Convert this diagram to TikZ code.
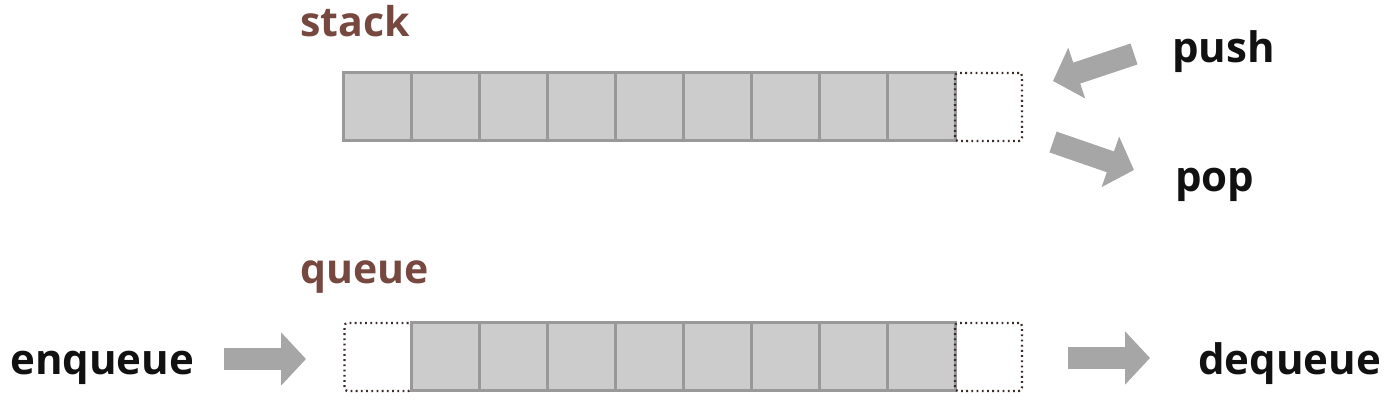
\documentclass[tikz,border=0pt]{standalone}
\usepackage{fontspec}
\setmainfont{Open Sans}
\usetikzlibrary{arrows.meta}
\definecolor{brn}{HTML}{774840}
\definecolor{cellfill}{HTML}{CCCCCC}
\definecolor{celledge}{HTML}{999999}
\definecolor{arrgray}{HTML}{A6A6A6}
\definecolor{dotc}{HTML}{3A2A28}
\definecolor{txt}{HTML}{111111}
\begin{document}
\begin{tikzpicture}[x=1pt,y=-1pt,
  cell/.style={draw=celledge,fill=cellfill,line width=3pt,minimum width=68pt,minimum height=68pt,inner sep=0pt,outer sep=0pt,anchor=north west},
  emptycell/.style={draw=dotc,line width=2.2pt,dash pattern=on 1.8pt off 3.4pt,rounded corners=3pt,minimum width=67pt,minimum height=68pt,inner sep=0pt,outer sep=0pt,anchor=north west},
  lbl/.style={font=\fontsize{42}{48}\selectfont\bfseries,text=txt,anchor=base west,inner sep=0pt},
  title/.style={font=\fontsize{41}{48}\selectfont\bfseries,text=brn,anchor=base west,inner sep=0pt},
  bigarrow/.style={draw=arrgray,line width=22pt,-{Triangle[length=25pt,width=52pt]},color=arrgray}]
\useasboundingbox (0,0) rectangle (1400,419);
% stack
\node[title] (stacklbl) at (300,37) {stack};
\foreach \i in {0,...,8} {
  \node[cell] (s\i) at ({343+68*\i},73) {};
}
\node[emptycell] (stop) at (955,73) {};
% queue
\node[title] (queuelbl) at (300,284) {queue};
\node[emptycell] (qin) at (344.5,323) {};
\foreach \i in {0,...,7} {
  \node[cell] (q\i) at ({411+68*\i},323) {};
}
\node[emptycell] (qout) at (955,323) {};
% labels
\node[lbl] (push) at (1172,63) {push};
\node[lbl] (pop) at (1175,192) {pop};
\node[lbl] (enq) at (10,375) {enqueue};
\node[lbl] (deq) at (1198,375) {dequeue};
% arrows
\coordinate (pushA) at (1134,54);
\coordinate (pushB) at (1053,81);
\coordinate (popA) at (1053,142);
\coordinate (popB) at (1134,170);
\coordinate (enqA) at (224,359);
\coordinate (enqB) at (306,359);
\coordinate (deqA) at (1068,358);
\coordinate (deqB) at (1150,358);
\draw[bigarrow] (pushA) -- (pushB);
\draw[bigarrow] (popA) -- (popB);
\draw[bigarrow] (enqA) -- (enqB);
\draw[bigarrow] (deqA) -- (deqB);
\end{tikzpicture}
\end{document}
